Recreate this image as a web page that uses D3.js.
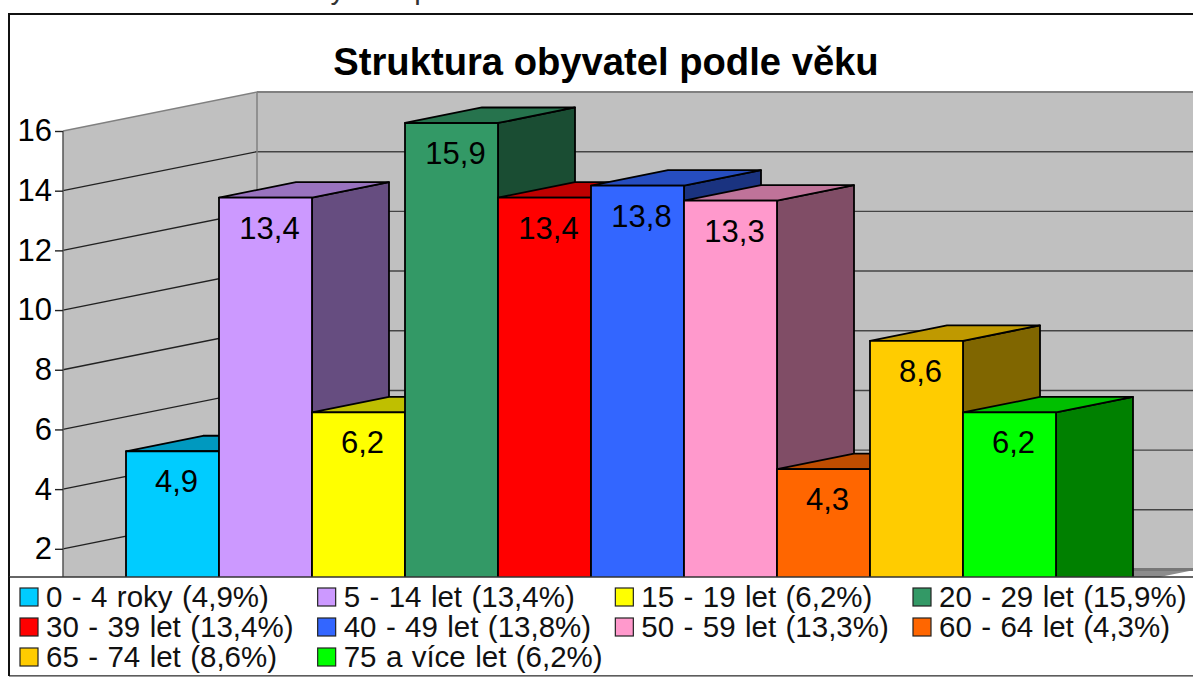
<!DOCTYPE html>
<html>
<head>
<meta charset="utf-8">
<script src="https://cdn.jsdelivr.net/npm/d3@7"></script>
<style>
  html, body { margin: 0; padding: 0; background: #fff; overflow: hidden; }
  svg { display: block; font-family: "Liberation Sans", Arial, sans-serif; }
</style>
</head>
<body>
<div id="viz-container"></div>
<script>
// Values
const categories = ["0 - 4 roky", "5 - 14 let", "15 - 19 let", "20 - 29 let", "30 - 39 let",
    "40 - 49 let", "50 - 59 let", "60 - 64 let", "65 - 74 let", "75 a více let"];
const values = [4.9, 13.4, 6.2, 15.9, 13.4, 13.8, 13.3, 4.3, 8.6, 6.2];
const colors = ["#00ccff", "#cc99ff", "#ffff00", "#339966", "#ff0000",
    "#3366ff", "#ff99cc", "#ff6600", "#ffcc00", "#00ff00"];
const yTicks = [2, 4, 6, 8, 10, 12, 14, 16];
const title = "Struktura obyvatel podle věku";
const caption = "Graf: Struktura obyvatel podle věku";

const comma = d => String(d).replace(".", ",");
const shade = (c, k) => {
    const rgb = d3.rgb(c);
    return d3.rgb(rgb.r * k, rgb.g * k, rgb.b * k).formatHex();
};

const width = 1193, height = 678;

const svg = d3.select("#viz-container").append("svg")
    .attr("width", width)
    .attr("height", height);

// Scales, front plane of the walls
const y = d3.scaleLinear().domain([0, 16]).range([608.5, 131]);
const x = d3.scaleBand().domain(categories).range([126, 1056]);

// 3D offsets
const wall = { left: 63, dx: 194, dy: -39, right: 1003 };
const bar = { dy: -11, dx: 77, rise: -15.5 };

const pts = arr => arr.map(p => p.join(",")).join(" ");

// Frame
svg.append("rect")
    .attr("x", 9).attr("y", 14)
    .attr("width", width + 20).attr("height", 661)
    .attr("fill", "#fff")
    .attr("stroke", "#111")
    .attr("stroke-width", 2);

// Text above the frame, cut by the window edge
svg.append("text")
    .attr("x", 100).attr("y", -1)
    .style("font-size", "29px")
    .style("fill", "#333")
    .text(caption);

// Title
svg.append("text")
    .attr("x", 606).attr("y", 75)
    .attr("text-anchor", "middle")
    .style("font-size", "38.2px")
    .style("font-weight", "bold")
    .style("fill", "#000")
    .text(title);

const plot = svg.append("g");

// Walls and floor
const top3 = y(16), zero = y(0);
plot.append("polygon")
    .attr("points", pts([[wall.left, top3], [wall.left + wall.dx, top3 + wall.dy],
        [wall.left + wall.dx, zero + wall.dy], [wall.left, zero]]))
    .attr("fill", "#c0c0c0");
plot.append("rect")
    .attr("x", wall.left + wall.dx).attr("y", top3 + wall.dy)
    .attr("width", width - wall.left - wall.dx).attr("height", zero - top3)
    .attr("fill", "#c0c0c0");
plot.append("polygon")
    .attr("points", pts([[wall.left + wall.dx, zero + wall.dy], [wall.right + wall.dx, zero + wall.dy],
        [wall.right, zero], [wall.left, zero]]))
    .attr("fill", "#8c8c8c");

// Grid lines on both walls
yTicks.forEach(t => {
    const isTop = t === 16;
    plot.append("line")
        .attr("x1", wall.left).attr("y1", y(t))
        .attr("x2", wall.left + wall.dx).attr("y2", y(t) + wall.dy)
        .attr("stroke", isTop ? "#808080" : "#222")
        .attr("stroke-width", 1.4);
    plot.append("line")
        .attr("x1", wall.left + wall.dx).attr("y1", y(t) + wall.dy)
        .attr("x2", width).attr("y2", y(t) + wall.dy)
        .attr("stroke", isTop ? "#808080" : "#444")
        .attr("stroke-width", isTop ? 2 : 1.4);
});
plot.append("line")
    .attr("x1", wall.left + wall.dx).attr("y1", y(16) + wall.dy)
    .attr("x2", wall.left + wall.dx).attr("y2", zero + wall.dy)
    .attr("stroke", "#808080").attr("stroke-width", 1.5);
plot.append("line")
    .attr("x1", wall.left + wall.dx).attr("y1", zero + wall.dy)
    .attr("x2", width).attr("y2", zero + wall.dy)
    .attr("stroke", "#777").attr("stroke-width", 3);
plot.append("line")
    .attr("x1", wall.left).attr("y1", y(16))
    .attr("x2", wall.left).attr("y2", zero)
    .attr("stroke", "#555").attr("stroke-width", 1.5);

// Axis
const axis = svg.append("g")
    .attr("transform", `translate(${wall.left},0)`)
    .call(d3.axisLeft(y).tickValues(yTicks).tickSize(8).tickPadding(3));
axis.select(".domain").remove();
axis.selectAll("line").attr("stroke", "#222").attr("stroke-width", 1.4);
axis.selectAll("text")
    .style("font-size", "31px")
    .style("font-family", "'Liberation Sans', Arial, sans-serif")
    .attr("fill", "#000");

// Bars, left to right so each covers the side of the one before
const bars = plot.selectAll(".bar")
    .data(values)
    .enter()
    .append("g")
    .attr("class", "bar");

function outline(sel) {
    return sel.attr("stroke", "#000")
        .attr("stroke-width", 1.8)
        .attr("stroke-linejoin", "round");
}

outline(bars.append("polygon"))
    .attr("points", (d, i) => {
        const x0 = x(categories[i]) + x.bandwidth(), t = y(d) + bar.dy, b = zero + bar.dy;
        return pts([[x0, t], [x0 + bar.dx, t + bar.rise], [x0 + bar.dx, b + bar.rise], [x0, b]]);
    })
    .attr("fill", (d, i) => shade(colors[i], 0.5));

outline(bars.append("polygon"))
    .attr("points", (d, i) => {
        const x0 = x(categories[i]), x1 = x0 + x.bandwidth(), t = y(d) + bar.dy;
        return pts([[x0, t], [x1, t], [x1 + bar.dx, t + bar.rise], [x0 + bar.dx, t + bar.rise]]);
    })
    .attr("fill", (d, i) => shade(colors[i], 0.75));

outline(bars.append("rect"))
    .attr("x", (d, i) => x(categories[i]))
    .attr("y", d => y(d) + bar.dy)
    .attr("width", x.bandwidth())
    .attr("height", d => zero - y(d))
    .attr("fill", (d, i) => colors[i]);

// Data labels
bars.append("text")
    .attr("x", (d, i) => x(categories[i]) + x.bandwidth() / 2 + 4)
    .attr("y", d => y(d) + bar.dy + 41)
    .attr("text-anchor", "middle")
    .style("font-size", "31px")
    .style("fill", "#000")
    .text(d => comma(d));

// Legend box covers the bottom of the plot
svg.append("rect")
    .attr("x", 10).attr("y", 577)
    .attr("width", width).attr("height", 98)
    .attr("fill", "#fff");
svg.append("line")
    .attr("x1", 9).attr("y1", 577).attr("x2", width).attr("y2", 577)
    .attr("stroke", "#333").attr("stroke-width", 1.5);
svg.append("line")
    .attr("x1", 9).attr("y1", 676).attr("x2", width).attr("y2", 676)
    .attr("stroke", "#777").attr("stroke-width", 1.5);
svg.append("line")
    .attr("x1", 9).attr("y1", 577).attr("x2", 9).attr("y2", 676)
    .attr("stroke", "#111").attr("stroke-width", 2);

const legendX = d3.scalePoint().domain([0, 1, 2, 3]).range([20, 913]);
const legendY = d3.scalePoint().domain([0, 1, 2]).range([588, 648]);

const items = svg.selectAll(".legend-item")
    .data(categories)
    .enter()
    .append("g")
    .attr("class", "legend-item")
    .attr("transform", (d, i) => `translate(${legendX(i % 4)},${legendY(Math.floor(i / 4))})`);

items.append("rect")
    .attr("x", 0).attr("y", 0)
    .attr("width", 18).attr("height", 18)
    .attr("fill", (d, i) => colors[i])
    .attr("stroke", "#222")
    .attr("stroke-width", 1.2);

items.append("text")
    .attr("x", 26).attr("y", 19)
    .style("font-size", "29.5px")
    .style("word-spacing", "1.2px")
    .style("fill", "#111")
    .text((d, i) => `${d} (${comma(values[i])}%)`);
</script>
</body>
</html>
